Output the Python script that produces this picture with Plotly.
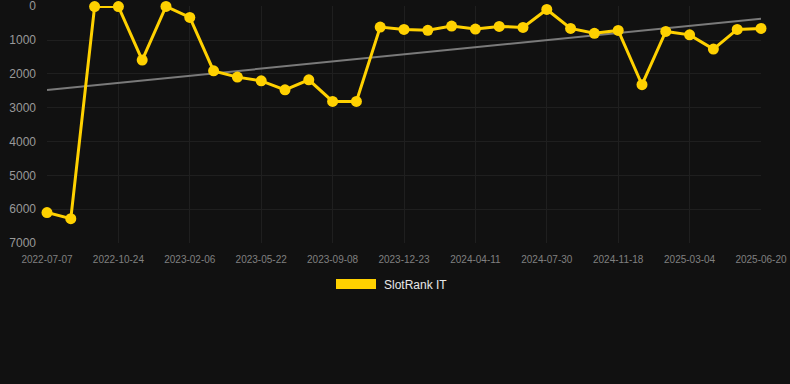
import numpy as np
import plotly.graph_objects as go

dates = [
    "2022-07-07", "2022-08-12", "2022-09-17", "2022-10-24", "2022-11-29", "2023-01-01",
    "2023-02-06", "2023-03-13", "2023-04-17", "2023-05-22", "2023-06-28", "2023-08-03",
    "2023-09-08", "2023-10-13", "2023-11-17", "2023-12-23", "2024-01-29", "2024-03-05",
    "2024-04-11", "2024-05-18", "2024-06-23", "2024-07-30", "2024-09-05", "2024-10-12",
    "2024-11-18", "2024-12-23", "2025-01-27", "2025-03-04", "2025-04-09", "2025-05-15",
    "2025-06-20",
]
ranks = [
    6100, 6280, 10, 10, 1590, 5, 330, 1910, 2095, 2205, 2470, 2175,
    2815, 2815, 615, 685, 710, 585, 675, 595, 625, 95, 655, 800,
    715, 2320, 745, 845, 1265, 685, 655,
]
tick_labels = dates[::3]
y_ticks = [0, 1000, 2000, 3000, 4000, 5000, 6000, 7000]
series_name = "SlotRank IT"

idx = np.arange(len(ranks))
slope, intercept = np.polyfit(idx, ranks, 1)
trend = slope * idx + intercept

fig = go.Figure()
fig.add_trace(go.Scatter(
    x=dates, y=trend, mode="lines",
    line=dict(color="#7a7a7a", width=2),
    hoverinfo="skip", showlegend=False, cliponaxis=False,
))
fig.add_trace(go.Scatter(
    x=dates, y=ranks, mode="lines+markers", name=series_name,
    line=dict(color="#FFD100", width=3),
    marker=dict(color="#FFD100", size=11),
    cliponaxis=False, showlegend=False,
))

W, H = 790, 384
L, R, T, B = 47, 29, 6, 141
pw, ph = W - L - R, H - T - B

def px(xp):
    return (xp - L) / pw

def py(yp):
    return (H - B - yp) / ph

fig.add_shape(type="rect", xref="paper", yref="paper",
              x0=px(336), x1=px(376), y0=py(289), y1=py(279),
              fillcolor="#FFD100", line=dict(width=0))
fig.add_annotation(xref="paper", yref="paper", x=px(382), y=py(284.5),
                   xanchor="left", yanchor="middle", showarrow=False,
                   text=series_name, font=dict(color="#e8e8e8", size=12))

fig.update_layout(
    width=W, height=H,
    margin=dict(l=L, r=R, t=T, b=B, autoexpand=False),
    paper_bgcolor="#111111", plot_bgcolor="#111111",
    font=dict(family="Liberation Sans, Arial, sans-serif"),
    showlegend=False,
)
fig.update_xaxes(
    type="category", range=[0, len(dates) - 1], automargin=False,
    tickmode="array", tickvals=tick_labels, ticktext=tick_labels,
    tickfont=dict(size=10, color="#808080"), ticklabeloverflow="allow",
    showgrid=True, gridcolor="#1f1f1f", gridwidth=1,
    zeroline=False, showline=False, ticks="", ticklabelstandoff=9,
)
fig.update_yaxes(
    range=[7000, -8], tickvals=y_ticks, automargin=False,
    tickfont=dict(size=12, color="#999999"), ticklabeloverflow="allow",
    showgrid=True, gridcolor="#1f1f1f", gridwidth=1,
    zeroline=False, showline=False, ticks="", ticklabelstandoff=10,
)

fig.write_html("out.html")
